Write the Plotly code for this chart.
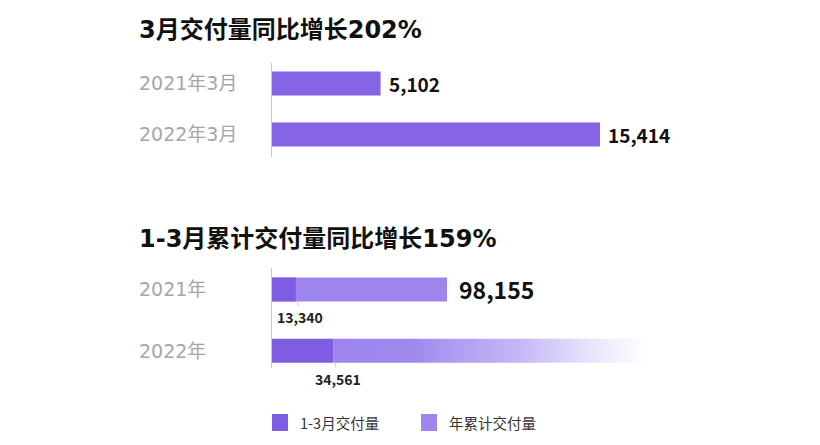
import plotly.graph_objects as go

# top chart: March deliveries
march_labels = ["2021年3月", "2022年3月"]
march_values = [5102, 15414]

# bottom chart: Q1 vs year-to-date deliveries
year_labels = ["2021年", "2022年"]
q1_values = [13340, 34561]
ytd_values = [98155, 210000]  # 2022 is the open-ended faded bar

series_names = ["1-3月交付量", "年累计交付量"]
titles = ["3月交付量同比增长202%", "1-3月累计交付量同比增长159%"]

# page body has an 8px margin, so the figure is a bit smaller than the window
OFF = 8
W, H = 812, 437
DARK = "#7F5DE3"
TOP = "#8565E5"
LIGHT = "#9E85EE"
FONT = "Noto Sans CJK SC"
WIDE = "DejaVu Sans, Noto Sans CJK SC"


def px(x):
    return (x - OFF) / W


def py(y):
    return 1 - (y - OFF) / H


pos = list(range(len(march_labels)))

fig = go.Figure()

# top bars
fig.add_trace(go.Bar(
    x=march_values, y=pos, orientation="h", width=0.47,
    marker=dict(color=TOP, line=dict(width=0)),
    xaxis="x", yaxis="y", showlegend=False, hoverinfo="skip",
))

# bottom: light full-year bar for 2021
fig.add_trace(go.Bar(
    x=ytd_values[:1], y=pos[:1], orientation="h", width=0.39,
    marker=dict(color=LIGHT, line=dict(width=0)),
    xaxis="x2", yaxis="y2", showlegend=False, hoverinfo="skip",
))

# bottom: faded bar for 2022 (starts where Q1 ends)
hw = 0.195
x0, x1 = q1_values[1], ytd_values[1]
fig.add_trace(go.Scatter(
    x=[x0, x1, x1, x0, x0],
    y=[pos[1] - hw, pos[1] - hw, pos[1] + hw, pos[1] + hw, pos[1] - hw],
    fill="toself", mode="lines", line=dict(width=0),
    fillgradient=dict(
        type="horizontal",
        colorscale=[[0, LIGHT], [0.25, "rgba(160,136,238,1)"],
                    [0.6, "rgba(178,160,242,0.75)"], [1, "rgba(195,180,246,0)"]],
    ),
    xaxis="x2", yaxis="y2", showlegend=False, hoverinfo="skip",
))

# bottom: dark Q1 bars
fig.add_trace(go.Bar(
    x=q1_values, y=pos, orientation="h", width=0.39,
    marker=dict(color=DARK, line=dict(width=0)),
    xaxis="x2", yaxis="y2", showlegend=False, hoverinfo="skip",
))

ann = []

# titles
for t, y in zip(titles, [30, 239]):
    ann.append(dict(text=t, x=px(137), y=py(y), xref="paper", yref="paper",
                    xanchor="left", yanchor="middle", showarrow=False,
                    font=dict(family=WIDE, size=24, color="#111", weight=700)))

# category labels
for lab, p in zip(march_labels, pos):
    ann.append(dict(text=lab, x=px(137), y=p, xref="paper", yref="y",
                    xanchor="left", yanchor="middle", showarrow=False,
                    font=dict(family=WIDE, size=19, color="#a6a6a6")))
for lab, p in zip(year_labels, pos):
    ann.append(dict(text=lab, x=px(137), y=p, xref="paper", yref="y2",
                    xanchor="left", yanchor="middle", showarrow=False,
                    font=dict(family=WIDE, size=19, color="#a6a6a6")))

# value labels
for v, p in zip(march_values, pos):
    ann.append(dict(text=f"{v:,}", x=v, y=p, xref="x", yref="y",
                    xanchor="left", yanchor="middle", xshift=6, showarrow=False,
                    font=dict(family=FONT, size=19, color="#111", weight=700)))
ann.append(dict(text=f"{ytd_values[0]:,}", x=ytd_values[0], y=pos[0], xref="x2", yref="y2",
                xanchor="left", yanchor="middle", xshift=10, showarrow=False,
                font=dict(family=FONT, size=23, color="#111", weight=700)))

# Q1 labels below bars with small tick
for v, p in zip(q1_values, pos):
    ann.append(dict(text=f"{v:,}", x=v, y=p, xref="x2", yref="y2",
                    ax=4, ay=28, arrowhead=0, arrowwidth=1, arrowcolor="#c8c8c8",
                    standoff=12, showarrow=True,
                    font=dict(family=FONT, size=14, color="#222", weight=600)))

# legend drawn by hand (large squares)
shapes = []
for name, color, sx in zip(series_names, [DARK, LIGHT], [272, 421]):
    shapes.append(dict(type="rect", xref="paper", yref="paper",
                       x0=px(sx), x1=px(sx + 16), y0=py(431), y1=py(414),
                       fillcolor=color, line=dict(width=0)))
    ann.append(dict(text=name, x=px(sx + 26), y=py(422.5), xref="paper", yref="paper",
                    xanchor="left", yanchor="middle", showarrow=False,
                    font=dict(family=FONT, size=14.5, color="#333")))

axis_common = dict(showgrid=False, zeroline=False, showticklabels=False, ticks="")

fig.update_layout(
    width=W, height=H,
    margin=dict(l=0, r=0, t=0, b=0),
    paper_bgcolor="white", plot_bgcolor="white",
    barmode="overlay", showlegend=False,
    xaxis=dict(domain=[px(272), 1], range=[0, (820 - 272) / 328 * 15414], visible=False),
    yaxis=dict(domain=[py(157.4), py(63)], range=[1.45, -0.4],
               showline=True, linecolor="#c8c8c8", linewidth=1, **axis_common),
    xaxis2=dict(domain=[px(272), 1], range=[0, (820 - 272) / 175 * 98155],
                visible=False, anchor="y2"),
    yaxis2=dict(domain=[py(368), py(268)], range=[1.28, -0.35], anchor="x2",
                showline=True, linecolor="#c8c8c8", linewidth=1, **axis_common),
    annotations=ann, shapes=shapes,
)

fig.write_html("out.html")
